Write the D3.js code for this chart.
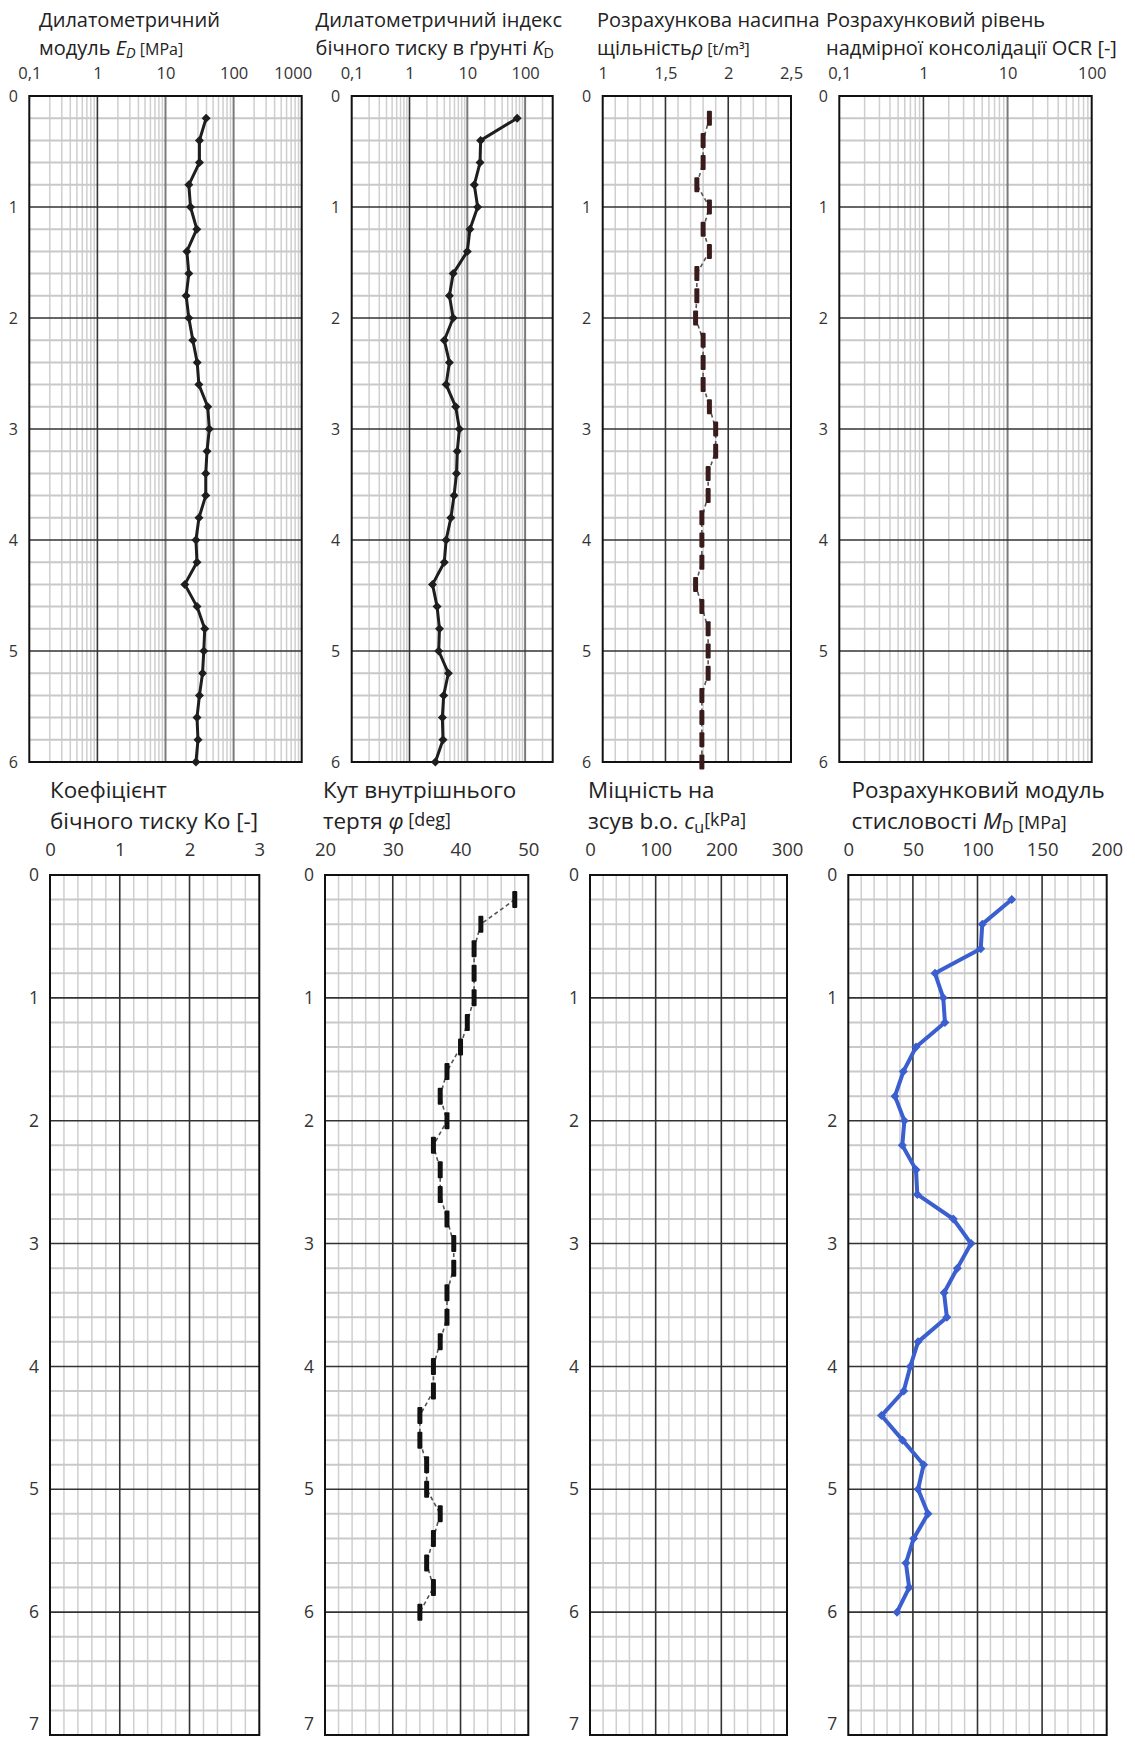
<!DOCTYPE html>
<html>
<head>
<meta charset="utf-8">
<script src="https://cdn.jsdelivr.net/npm/d3@7"></script>
<style>
  html, body { margin: 0; padding: 0; background: #fff; }
  svg { display: block; }
  text { font-family: "Open Sans", "Noto Sans", sans-serif; }
</style>
</head>
<body>
<svg id="chart" width="1135" height="1737"></svg>
<script>
// Sounding depths, m (one reading every 0.2 m)
const depths = [0.2, 0.4, 0.6, 0.8, 1.0, 1.2, 1.4, 1.6, 1.8, 2.0,
                2.2, 2.4, 2.6, 2.8, 3.0, 3.2, 3.4, 3.6, 3.8, 4.0,
                4.2, 4.4, 4.6, 4.8, 5.0, 5.2, 5.4, 5.6, 5.8, 6.0];

// Dilatometer modulus E_D, MPa
const edValues = [39.5, 31.5, 31.5, 22, 23.3, 28.8, 20.6, 22, 20.1, 22,
                  25.2, 29.2, 30.9, 41.7, 44, 40.7, 39, 39, 31, 28,
                  29, 19.2, 29, 37.7, 36.5, 35, 31.5, 29, 30, 28];

// Horizontal stress index K_D
const kdValues = [73, 17, 16.6, 13.2, 15.1, 11.1, 10, 5.7, 4.9, 5.7,
                  4.0, 4.9, 4.3, 6.3, 7.3, 6.7, 6.5, 5.9, 5.2, 4.3,
                  4.0, 2.5, 3.0, 3.3, 3.2, 4.7, 3.9, 3.7, 3.8, 2.8];

// Estimated bulk density rho, t/m3
const rhoValues = [1.85, 1.80, 1.80, 1.75, 1.85, 1.80, 1.85, 1.75, 1.75, 1.74,
                   1.80, 1.80, 1.80, 1.85, 1.90, 1.90, 1.84, 1.84, 1.79, 1.79,
                   1.79, 1.74, 1.79, 1.84, 1.84, 1.84, 1.79, 1.79, 1.79, 1.79];

// Friction angle phi, deg
const phiValues = [48, 43, 42, 42, 42, 41, 40, 38, 37, 38,
                   36, 37, 37, 38, 39, 39, 38, 38, 37, 36,
                   36, 34, 34, 35, 35, 37, 36, 35, 36, 34];

// Constrained modulus M_D, MPa
const mdValues = [126.5, 103.7, 102.5, 67.1, 73.5, 74.8, 52.4, 42.6, 36.1, 43.4,
                  41.8, 52.4, 53.4, 81.3, 95.0, 84.4, 74.1, 76.3, 54, 48,
                  42.9, 25.7, 42, 58.3, 54, 61.7, 50.6, 44.6, 47.1, 37.7];

// Axis tick values
const edTicks  = [0.1, 1, 10, 100, 1000];
const kdTicks  = [0.1, 1, 10, 100];
const rhoTicks = [1, 1.5, 2, 2.5];
const ocrTicks = [0.1, 1, 10, 100];
const koTicks  = [0, 1, 2, 3];
const phiTicks = [20, 30, 40, 50];
const cuTicks  = [0, 100, 200, 300];
const mdTicks  = [0, 50, 100, 150, 200];
const depthTicksTop = [0, 1, 2, 3, 4, 5, 6];
const depthTicksBottom = [0, 1, 2, 3, 4, 5, 6, 7];

// Numbers are written with a decimal comma
const uk = d3.formatLocale({decimal: ",", thousands: "\u00a0", grouping: [3], currency: ["", ""]});
const fmt = v => uk.format("~g")(v);

const H = 1737;
const svg = d3.select("#chart");

const rows = {
  top:    {y0: 96,  y1: 762,  dmax: 6, depthTicks: depthTicksTop,    tickY: 79,  tickSize: 16.5, depthSize: 16, titleY: [27, 55],   titleSize: 20},
  bottom: {y0: 875, y1: 1735, dmax: 7, depthTicks: depthTicksBottom, tickY: 856, tickSize: 18.5, depthSize: 17.5, titleY: [798, 829], titleSize: 22.4}
};

const panels = [
  {row: "top", type: "log", domain: [0.1, 1000], x: [29.3, 301.7], ticks: edTicks, titleX: 39, lastTickDx: -9,
   title: [[{t: "Дилатометричний"}],
           [{t: "модуль "}, {t: "E", i: true}, {t: "D", i: true, sub: true}, {t: " [MPa]", small: true}]],
   series: {values: edValues, style: "diamond", color: "#1e1e1e"}},
  {row: "top", type: "log", domain: [0.1, 300], x: [351.7, 552.7], ticks: kdTicks, titleX: 315.6,
   title: [[{t: "Дилатометричний індекс"}],
           [{t: "бічного тиску в ґрунті  "}, {t: "K", i: true}, {t: "D", sub: true}]],
   series: {values: kdValues, style: "diamond", color: "#1e1e1e"}},
  {row: "top", type: "lin", domain: [1, 2.5], x: [602.7, 791], ticks: rhoTicks, minorStep: 0.1, titleX: 597,
   title: [[{t: "Розрахункова насипна"}],
           [{t: "щільність"}, {t: "ρ", i: true}, {t: " [t/m³]", small: true}]],
   series: {values: rhoValues, style: "bar", color: "#3a1b1b", barH: 15}},
  {row: "top", type: "log", domain: [0.1, 100], x: [839.3, 1091.7], ticks: ocrTicks, titleX: 826,
   title: [[{t: "Розрахунковий рівень"}],
           [{t: "надмірної консолідації OCR [-]"}]]},
  {row: "bottom", type: "lin", domain: [0, 3], x: [50, 259.3], ticks: koTicks, minorStep: 0.2, titleX: 50,
   title: [[{t: "Коефіцієнт"}],
           [{t: "бічного тиску Ko [-]"}]]},
  {row: "bottom", type: "lin", domain: [20, 50], x: [325, 528.3], ticks: phiTicks, minorStep: 2, titleX: 323,
   title: [[{t: "Кут внутрішнього"}],
           [{t: "тертя "}, {t: "φ", i: true}, {t: " [deg]", small: true, up: true}]],
   series: {values: phiValues, style: "bar", color: "#111", barH: 17}},
  {row: "bottom", type: "lin", domain: [0, 300], x: [590, 787], ticks: cuTicks, minorStep: 20, titleX: 588,
   title: [[{t: "Міцність на"}],
           [{t: "зсув b.o. "}, {t: "c", i: true}, {t: "u", sub: true}, {t: "[kPa]", small: true, up: true}]]},
  {row: "bottom", type: "lin", domain: [0, 200], x: [848.3, 1106.7], ticks: mdTicks, minorStep: 10, titleX: 851.5,
   title: [[{t: "Розрахунковий модуль"}],
           [{t: "стисловості "}, {t: "M", i: true}, {t: "D", sub: true}, {t: " [MPa]", small: true}]],
   series: {values: mdValues, style: "diamond", color: "#3b5fcf", lineWidth: 4}}
];

panels.forEach(p => {
  const row = rows[p.row];
  const x = (p.type === "log" ? d3.scaleLog() : d3.scaleLinear()).domain(p.domain).range(p.x);
  const y = d3.scaleLinear().domain([0, row.dmax]).range([row.y0, row.y1]);
  const g = svg.append("g");

  // minor vertical grid
  let minor = [];
  if (p.type === "log") {
    const lo = Math.floor(Math.log10(p.domain[0])), hi = Math.ceil(Math.log10(p.domain[1]));
    for (let e = lo; e < hi; e++) {
      for (let k = 2; k <= 9; k++) {
        const v = k * Math.pow(10, e);
        if (v > p.domain[0] && v < p.domain[1]) minor.push(+v.toPrecision(3));
      }
    }
  } else {
    const n = Math.round((p.domain[1] - p.domain[0]) / p.minorStep);
    for (let i = 1; i < n; i++) minor.push(p.domain[0] + i * p.minorStep);
    minor = minor.filter(v => !p.ticks.some(t => Math.abs(t - v) < 1e-9));
  }
  g.append("g").selectAll("line").data(minor).join("line")
    .attr("x1", d => x(d)).attr("x2", d => x(d))
    .attr("y1", row.y0).attr("y2", row.y1)
    .attr("stroke", "#cfcfcf").attr("stroke-width", 1.5);

  // minor horizontal grid every 0.2 m
  const yMinor = [];
  for (let i = 1; i < row.dmax * 5; i++) if (i % 5) yMinor.push(i / 5);
  g.append("g").selectAll("line").data(yMinor).join("line")
    .attr("x1", p.x[0]).attr("x2", p.x[1])
    .attr("y1", d => y(d)).attr("y2", d => y(d))
    .attr("stroke", "#c9c9c9").attr("stroke-width", 2);

  // major vertical grid
  const majors = p.ticks.filter(v => v > p.domain[0] && v < p.domain[1]);
  g.append("g").selectAll("line").data(majors).join("line")
    .attr("x1", d => x(d)).attr("x2", d => x(d))
    .attr("y1", row.y0).attr("y2", row.y1)
    .attr("stroke", d => (p.type === "log" && d !== 1) ? "#7a7a7a" : "#333")
    .attr("stroke-width", d => (p.type === "log" && d !== 1) ? 2 : 1.6);

  // major horizontal grid at whole metres
  const yMajor = row.depthTicks.filter(v => v > 0 && v < row.dmax);
  g.append("g").selectAll("line").data(yMajor).join("line")
    .attr("x1", p.x[0]).attr("x2", p.x[1])
    .attr("y1", d => y(d)).attr("y2", d => y(d))
    .attr("stroke", "#333").attr("stroke-width", 1.6);

  // plot frame
  g.append("rect")
    .attr("x", p.x[0]).attr("y", row.y0)
    .attr("width", p.x[1] - p.x[0]).attr("height", row.y1 - row.y0)
    .attr("fill", "none").attr("stroke", "#111").attr("stroke-width", 2);

  // x axis labels (top)
  const xAxis = d3.axisTop(x).tickValues(p.ticks).tickFormat(fmt).tickSize(0).tickPadding(0);
  const ax = g.append("g").attr("transform", `translate(0,${row.tickY})`).call(xAxis);
  ax.select(".domain").remove();
  ax.attr("font-size", row.tickSize).attr("font-family", "'Open Sans', sans-serif");
  ax.selectAll("text").attr("fill", "#333").attr("dy", 0)
    .attr("dx", (d, i, n) => (p.lastTickDx && i === n.length - 1) ? p.lastTickDx : 0);

  // depth labels (left); the deepest one is lifted to stay on the page
  const yAxis = d3.axisLeft(y).tickValues(row.depthTicks).tickFormat(d3.format("d")).tickSize(0).tickPadding(0);
  const ay = g.append("g").attr("transform", `translate(${p.x[0] - 16},0)`).call(yAxis);
  ay.select(".domain").remove();
  ay.attr("font-size", row.depthSize).attr("font-family", "'Open Sans', sans-serif");
  ay.selectAll(".tick").attr("transform", d => {
    const yy = Math.min(y(d), H - 1 - row.depthSize * 0.68);
    return `translate(0,${yy})`;
  });
  ay.selectAll("text").attr("fill", "#333").attr("text-anchor", "middle").attr("dy", "0.35em");

  // title
  p.title.forEach((line, li) => {
    const t = g.append("text").attr("x", p.titleX).attr("y", row.titleY[li])
      .attr("font-size", row.titleSize).attr("fill", "#222");
    line.forEach(seg => {
      const ts = t.append("tspan").text(seg.t);
      if (seg.i) ts.attr("font-style", "italic");
      if (seg.small) ts.attr("font-size", row.titleSize * 0.8);
      if (seg.sub) ts.attr("font-size", row.titleSize * 0.72).attr("baseline-shift", "-22%");
      if (seg.up) ts.attr("baseline-shift", "18%");
    });
  });

  // measured profile
  if (p.series) {
    const s = p.series;
    const pts = depths.map((d, i) => ({d, v: s.values[i]}));
    const line = d3.line().x(o => x(o.v)).y(o => y(o.d));
    if (s.style === "diamond") {
      g.append("path").datum(pts).attr("d", line)
        .attr("fill", "none").attr("stroke", s.color)
        .attr("stroke-width", s.lineWidth || 3).attr("stroke-linejoin", "round");
      const r = 4.5;
      g.append("g").selectAll("path").data(pts).join("path")
        .attr("d", `M0,${-r}L${r},0L0,${r}L${-r},0Z`)
        .attr("transform", o => `translate(${x(o.v)},${y(o.d)})`)
        .attr("fill", s.color);
    } else {
      g.append("path").datum(pts).attr("d", line)
        .attr("fill", "none").attr("stroke", "#555")
        .attr("stroke-width", 1.6).attr("stroke-dasharray", "4,3");
      g.append("g").selectAll("rect").data(pts).join("rect")
        .attr("x", o => x(o.v) - 2.5).attr("y", o => y(o.d) - s.barH / 2)
        .attr("width", 5).attr("height", s.barH).attr("rx", 1)
        .attr("fill", s.color);
    }
  }
});
</script>
</body>
</html>
